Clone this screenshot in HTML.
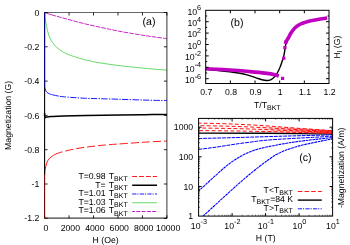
<!DOCTYPE html><html><head><meta charset="utf-8"><style>html,body{margin:0;padding:0;background:#fff;width:350px;height:245px;overflow:hidden}</style></head><body><svg width="350" height="245" viewBox="0 0 350 245" style="position:absolute;left:0;top:0;font-family:'Liberation Sans',sans-serif;font-size:8.7px;text-rendering:geometricPrecision;will-change:transform" fill="#000">
<rect width="350" height="245" fill="#fff"/>
<g fill="none" stroke-linejoin="round">
<path d="M44.60,12.50 C46.00,12.95 49.95,14.28 53.00,15.20 C56.05,16.12 59.40,17.03 62.90,18.00 C66.40,18.97 70.20,20.00 74.00,21.00 C77.80,22.00 81.87,23.07 85.70,24.00 C89.53,24.93 93.18,25.77 97.00,26.60 C100.82,27.43 104.77,28.20 108.60,29.00 C112.43,29.80 115.77,30.60 120.00,31.40 C124.23,32.20 129.72,33.08 134.00,33.80 C138.28,34.52 142.03,35.13 145.70,35.70 C149.37,36.27 152.47,36.72 156.00,37.20 C159.53,37.68 165.08,38.37 166.90,38.60" stroke="#c000c0" stroke-width="0.85" stroke-dasharray="12 1.0 4.7 1.0 4.7 1.0 4.7 1.0 4.7 1.0 4.7 1.0 4.7 1.0 4.7 1.0 4.7 1.0 4.7 1.0 4.7 1.0 4.7 1.0 4.7 1.0 4.7 1.0 4.7 1.0 4.7 1.0 4.7 1.0 4.7 1.0 4.7 1.0 4.7 1.0 4.7 1.0 4.7 1.0 4.7 1.0 4.7 1.0 4.7 1.0 4.7 1.0 4.7 1.0 4.7 1.0 4.7 1.0 4.7 1.0 4.7 1.0"/>
<path d="M44.60,12.50 C44.70,13.42 44.98,16.25 45.20,18.00 C45.42,19.75 45.62,21.35 45.90,23.00 C46.18,24.65 46.57,26.40 46.90,27.90 C47.23,29.40 47.53,30.67 47.90,32.00 C48.27,33.33 48.55,34.48 49.10,35.90 C49.65,37.32 50.43,39.17 51.20,40.50 C51.97,41.83 52.72,42.68 53.70,43.90 C54.68,45.12 55.57,46.47 57.10,47.80 C58.63,49.13 61.08,50.80 62.90,51.90 C64.72,53.00 66.10,53.62 68.00,54.40 C69.90,55.18 71.35,55.67 74.30,56.60 C77.25,57.53 81.90,59.03 85.70,60.00 C89.50,60.97 93.28,61.70 97.10,62.40 C100.92,63.10 104.78,63.65 108.60,64.20 C112.42,64.75 116.10,65.23 120.00,65.70 C123.90,66.17 127.72,66.55 132.00,67.00 C136.28,67.45 141.70,68.02 145.70,68.40 C149.70,68.78 152.47,69.00 156.00,69.30 C159.53,69.60 165.08,70.05 166.90,70.20" stroke="#00c000" stroke-width="0.6"/>
<path d="M44.60,12.50 C44.60,20.42 44.58,47.75 44.60,60.00 C44.62,72.25 44.60,81.17 44.70,86.00 C44.80,90.83 44.98,88.17 45.20,89.00 C45.42,89.83 45.72,90.45 46.00,91.00 C46.28,91.55 46.38,91.87 46.90,92.30 C47.42,92.73 48.35,93.23 49.10,93.60 C49.85,93.97 50.07,94.13 51.40,94.50 C52.73,94.87 55.18,95.43 57.10,95.80 C59.02,96.17 60.08,96.40 62.90,96.70 C65.72,97.00 70.20,97.33 74.00,97.60 C77.80,97.87 81.37,98.12 85.70,98.30 C90.03,98.48 94.28,98.53 100.00,98.70 C105.72,98.87 112.50,99.07 120.00,99.30 C127.50,99.53 137.18,99.88 145.00,100.10 C152.82,100.32 163.25,100.52 166.90,100.60" stroke="#0000ff" stroke-width="0.9" stroke-dasharray="93.0 1.2 6.4 1.3 1.4 1.3 6.4 1.3 1.4 1.3 6.4 1.3 1.4 1.3 6.4 1.3 1.4 1.3 6.4 1.3 1.4 1.3 6.4 1.3 1.4 1.3 6.4 1.3 1.4 1.3 6.4 1.3 1.4 1.3 6.4 1.3 1.4 1.3 6.4 1.3 1.4 1.3 6.4 1.3 1.4 1.3 6.4 1.3 1.4 1.3 6.4 1.3 1.4 1.3 6.4 1.3 1.4 1.3"/>
<path d="M44.60,176.00 C44.63,175.33 44.70,173.17 44.80,172.00 C44.90,170.83 45.05,169.83 45.20,169.00 C45.35,168.17 45.42,168.05 45.70,167.00 C45.98,165.95 46.33,164.07 46.90,162.70 C47.47,161.33 47.97,160.05 49.10,158.80 C50.23,157.55 52.22,156.13 53.70,155.20 C55.18,154.27 56.47,153.78 58.00,153.20 C59.53,152.62 60.18,152.40 62.90,151.70 C65.62,151.00 70.50,149.75 74.30,149.00 C78.10,148.25 81.90,147.73 85.70,147.20 C89.50,146.67 93.28,146.22 97.10,145.80 C100.92,145.38 104.30,145.05 108.60,144.70 C112.90,144.35 116.72,144.13 122.90,143.70 C129.08,143.27 138.37,142.55 145.70,142.10 C153.03,141.65 163.37,141.18 166.90,141.00" stroke="#ff0000" stroke-width="0.9" stroke-dasharray="33.4 3 8 3 8 3 8 3 8 3 8 3 8 3 8 3 8 3 8 3 8 3 8 3 8 3 8 3 8 3"/>
<path d="M44.60,113.00 C44.61,113.50 44.58,115.23 44.65,116.00 C44.72,116.77 44.83,117.42 45.00,117.60 C45.17,117.78 45.28,117.22 45.70,117.10 C46.12,116.98 46.55,116.98 47.50,116.90 C48.45,116.82 48.83,116.73 51.40,116.60 C53.97,116.47 57.18,116.27 62.90,116.10 C68.62,115.93 76.18,115.77 85.70,115.60 C95.22,115.43 110.12,115.25 120.00,115.10 C129.88,114.95 137.18,114.82 145.00,114.70 C152.82,114.58 163.25,114.45 166.90,114.40" stroke="#000" stroke-width="1.5"/>
</g>
<g stroke="#000" stroke-width="0.6" fill="none">
<path d="M44.60,12.50H166.90"/>
<path d="M166.90,12.20V218.30" stroke-width="0.8"/>
<path d="M44.30,218.1H167.20" stroke-width="0.95"/>
<path d="M44.60,12.50h3.0 M166.90,12.50h-3.0" stroke-width="0.85"/>
<path d="M44.60,46.80h3.0 M166.90,46.80h-3.0" stroke-width="0.85"/>
<path d="M44.60,81.10h3.0 M166.90,81.10h-3.0" stroke-width="0.85"/>
<path d="M44.60,115.40h3.0 M166.90,115.40h-3.0" stroke-width="0.85"/>
<path d="M44.60,149.70h3.0 M166.90,149.70h-3.0" stroke-width="0.85"/>
<path d="M44.60,184.00h3.0 M166.90,184.00h-3.0" stroke-width="0.85"/>
<path d="M44.60,218.30h3.0 M166.90,218.30h-3.0" stroke-width="0.85"/>
<path d="M44.60,218.30v-3.0 M44.60,12.50v3.0" stroke-width="0.85"/>
<path d="M69.06,218.30v-3.0 M69.06,12.50v3.0" stroke-width="0.85"/>
<path d="M93.52,218.30v-3.0 M93.52,12.50v3.0" stroke-width="0.85"/>
<path d="M117.98,218.30v-3.0 M117.98,12.50v3.0" stroke-width="0.85"/>
<path d="M142.44,218.30v-3.0 M142.44,12.50v3.0" stroke-width="0.85"/>
<path d="M166.90,218.30v-3.0 M166.90,12.50v3.0" stroke-width="0.85"/>
</g>
<path d="M44.60,12.50V86.5" stroke="#000078" stroke-width="1.1" fill="none"/>
<path d="M44.60,86.5V174" stroke="#000" stroke-width="1.1" fill="none"/>
<path d="M44.60,174V218.30" stroke="#680000" stroke-width="1.1" fill="none"/>
<text x="39.3" y="15.60" text-anchor="end">0</text>
<text x="39.3" y="49.90" text-anchor="end">-0.2</text>
<text x="39.3" y="84.20" text-anchor="end">-0.4</text>
<text x="39.3" y="118.50" text-anchor="end">-0.6</text>
<text x="39.3" y="152.80" text-anchor="end">-0.8</text>
<text x="39.3" y="187.10" text-anchor="end">-1</text>
<text x="39.3" y="221.40" text-anchor="end">-1.2</text>
<text x="45.80" y="230.9" text-anchor="middle">0</text>
<text x="70.36" y="230.9" text-anchor="middle">2000</text>
<text x="94.82" y="230.9" text-anchor="middle">4000</text>
<text x="119.28" y="230.9" text-anchor="middle">6000</text>
<text x="143.74" y="230.9" text-anchor="middle">8000</text>
<text x="168.20" y="230.9" text-anchor="middle">10000</text>
<text x="105.6" y="243.2" text-anchor="middle">H (Oe)</text>
<text transform="translate(11.3,115.4) rotate(-90)" text-anchor="middle">Magnetization (G)</text>
<text x="149" y="25" text-anchor="middle" style="font-size:10.6px">(a)</text>
<text x="127.7" y="178.90" text-anchor="end" word-spacing="0.8">T=0.98 T<tspan font-size="7" dy="2.3">BKT</tspan></text>
<path d="M132.2,176.50H157" stroke="#ff0000" stroke-width="0.9" stroke-dasharray="4.8 2.1" fill="none"/>
<text x="127.7" y="187.53" text-anchor="end" word-spacing="0.8">T= T<tspan font-size="7" dy="2.3">BKT</tspan></text>
<path d="M132.2,185.25H157" stroke="#000" stroke-width="1.5"  fill="none"/>
<text x="127.7" y="196.16" text-anchor="end" word-spacing="0.8">T=1.01 T<tspan font-size="7" dy="2.3">BKT</tspan></text>
<path d="M132.2,194.00H157" stroke="#0000ff" stroke-width="0.9" stroke-dasharray="4.2 0.9 1.2 1.3" fill="none"/>
<text x="127.7" y="204.79" text-anchor="end" word-spacing="0.8">T=1.03 T<tspan font-size="7" dy="2.3">BKT</tspan></text>
<path d="M132.2,202.75H157" stroke="#00c000" stroke-width="0.6"  fill="none"/>
<text x="127.7" y="213.42" text-anchor="end" word-spacing="0.8">T=1.06 T<tspan font-size="7" dy="2.3">BKT</tspan></text>
<path d="M132.2,211.50H157" stroke="#c000c0" stroke-width="0.9" stroke-dasharray="2.8 1.3 4 1.3 4 1.3 4 1.3 4 1.3" fill="none"/>
<path d="M205.70,69.40 C207.75,69.58 213.95,70.10 218.00,70.50 C222.05,70.90 226.33,71.35 230.00,71.80 C233.67,72.25 237.00,72.63 240.00,73.20 C243.00,73.77 245.33,74.43 248.00,75.20 C250.67,75.97 253.67,77.05 256.00,77.80 C258.33,78.55 260.23,79.25 262.00,79.70 C263.77,80.15 265.27,80.43 266.60,80.50 C267.93,80.57 268.93,80.47 270.00,80.10 C271.07,79.73 272.00,79.15 273.00,78.30 C274.00,77.45 275.00,76.43 276.00,75.00 C277.00,73.57 278.25,71.20 279.00,69.70 C279.75,68.20 280.00,67.33 280.50,66.00 C281.00,64.67 281.45,63.37 282.00,61.70 C282.55,60.03 283.30,58.12 283.80,56.00 C284.30,53.88 284.63,51.08 285.00,49.00 C285.37,46.92 285.40,45.42 286.00,43.50 C286.60,41.58 287.85,39.12 288.60,37.50 C289.35,35.88 289.73,35.08 290.50,33.80 C291.27,32.52 292.22,31.00 293.20,29.80 C294.18,28.60 295.15,27.57 296.40,26.60 C297.65,25.63 299.27,24.70 300.70,24.00 C302.13,23.30 303.33,22.93 305.00,22.40 C306.67,21.87 308.55,21.30 310.70,20.80 C312.85,20.30 315.30,19.83 317.90,19.40 C320.50,18.97 324.90,18.40 326.30,18.20" stroke="#000" stroke-width="1.4" fill="none"/>
<path d="M205.70,68.80 C209.75,69.00 222.62,69.53 230.00,70.00 C237.38,70.47 244.17,71.08 250.00,71.60 C255.83,72.12 260.83,72.58 265.00,73.10 C269.17,73.62 272.70,74.18 275.00,74.70 C277.30,75.22 278.17,75.95 278.80,76.20" stroke="#c000c0" stroke-width="3.6" fill="none"/>
<path d="M285.90,42.40 C286.08,42.00 286.55,40.82 287.00,40.00 C287.45,39.18 288.02,38.53 288.60,37.50 C289.18,36.47 289.73,35.08 290.50,33.80 C291.27,32.52 292.22,31.00 293.20,29.80 C294.18,28.60 295.15,27.57 296.40,26.60 C297.65,25.63 299.27,24.70 300.70,24.00 C302.13,23.30 303.33,22.93 305.00,22.40 C306.67,21.87 308.55,21.30 310.70,20.80 C312.85,20.30 315.47,19.82 317.90,19.40 C320.33,18.98 324.07,18.48 325.30,18.30" stroke="#c000c0" stroke-width="3.6" fill="none" stroke-linecap="square"/>
<rect x="281.00" y="76.80" width="3.2" height="3.2" fill="#c000c0"/>
<rect x="282.20" y="56.60" width="3.2" height="3.2" fill="#c000c0"/>
<rect x="283.30" y="46.00" width="3.2" height="3.2" fill="#c000c0"/>
<rect x="284.30" y="40.20" width="3.2" height="3.2" fill="#c000c0"/>
<g stroke="#000" stroke-width="1" fill="none">
<rect x="205.70" y="10.30" width="123.30" height="73.20"/>
<path d="M205.70,16.00h1.5 M329.00,16.00h-1.5"/>
<path d="M205.70,21.70h3.0 M329.00,21.70h-3.0"/>
<path d="M205.70,27.40h1.5 M329.00,27.40h-1.5"/>
<path d="M205.70,33.10h3.0 M329.00,33.10h-3.0"/>
<path d="M205.70,38.80h1.5 M329.00,38.80h-1.5"/>
<path d="M205.70,44.50h3.0 M329.00,44.50h-3.0"/>
<path d="M205.70,50.20h1.5 M329.00,50.20h-1.5"/>
<path d="M205.70,55.90h3.0 M329.00,55.90h-3.0"/>
<path d="M205.70,61.60h1.5 M329.00,61.60h-1.5"/>
<path d="M205.70,67.30h3.0 M329.00,67.30h-3.0"/>
<path d="M205.70,73.00h1.5 M329.00,73.00h-1.5"/>
<path d="M205.70,78.70h3.0 M329.00,78.70h-3.0"/>
<path d="M230.36,83.50v-3 M230.36,10.30v3"/>
<path d="M255.02,83.50v-3 M255.02,10.30v3"/>
<path d="M279.68,83.50v-3 M279.68,10.30v3"/>
<path d="M304.34,83.50v-3 M304.34,10.30v3"/>
</g>
<text x="201.1" y="14.50" text-anchor="end">10<tspan font-size="7.2" dy="-4.2">6</tspan></text>
<text x="201.1" y="25.90" text-anchor="end">10<tspan font-size="7.2" dy="-4.2">4</tspan></text>
<text x="201.1" y="37.30" text-anchor="end">10<tspan font-size="7.2" dy="-4.2">2</tspan></text>
<text x="201.1" y="48.70" text-anchor="end">10<tspan font-size="7.2" dy="-4.2">0</tspan></text>
<text x="201.1" y="60.10" text-anchor="end">10<tspan font-size="7.2" dy="-4.2">-2</tspan></text>
<text x="201.1" y="71.50" text-anchor="end">10<tspan font-size="7.2" dy="-4.2">-4</tspan></text>
<text x="201.1" y="82.90" text-anchor="end">10<tspan font-size="7.2" dy="-4.2">-6</tspan></text>
<text x="206.30" y="95.3" text-anchor="middle">0.7</text>
<text x="230.96" y="95.3" text-anchor="middle">0.8</text>
<text x="255.62" y="95.3" text-anchor="middle">0.9</text>
<text x="280.28" y="95.3" text-anchor="middle">1</text>
<text x="304.94" y="95.3" text-anchor="middle">1.1</text>
<text x="329.60" y="95.3" text-anchor="middle">1.2</text>
<text x="254.0" y="107.6">T/T<tspan font-size="7" dy="2.2">BKT</tspan></text>
<text transform="translate(339.7,47) rotate(-90)" text-anchor="middle">H<tspan font-size="7" dy="2">l</tspan><tspan dy="-2"> (G)</tspan></text>
<text x="237" y="26.3" text-anchor="middle" font-size="10.6">(b)</text>
<clipPath id="cc"><rect x="198.60" y="118.40" width="134.00" height="97.70"/></clipPath>
<g fill="none" clip-path="url(#cc)">
<path d="M198.6,133.1 L265,133.2 L300,133.6 L332.6,134.1" stroke="#000" stroke-width="1.35"/>
<path d="M198.60,123.10 C204.17,123.25 220.93,123.57 232.00,124.01 C243.07,124.46 254.00,125.05 265.00,125.76 C276.00,126.47 286.73,127.44 298.00,128.27 C309.27,129.09 326.83,130.29 332.60,130.70" stroke="#ff0000" stroke-width="0.95" stroke-dasharray="3.9 2.3" stroke-dashoffset="1.0"/>
<path d="M198.60,125.60 C204.17,125.72 220.93,125.97 232.00,126.32 C243.07,126.67 254.00,127.14 265.00,127.70 C276.00,128.26 286.73,129.03 298.00,129.68 C309.27,130.33 326.83,131.28 332.60,131.60" stroke="#ff0000" stroke-width="0.95" stroke-dasharray="3.9 2.3" stroke-dashoffset="4.2"/>
<path d="M198.60,128.00 C204.17,128.09 220.93,128.27 232.00,128.53 C243.07,128.78 254.00,129.13 265.00,129.54 C276.00,129.95 286.73,130.52 298.00,130.99 C309.27,131.47 326.83,132.17 332.60,132.40" stroke="#ff0000" stroke-width="0.95" stroke-dasharray="3.9 2.3" stroke-dashoffset="2.4"/>
<path d="M198.60,130.60 C204.17,130.65 220.93,130.76 232.00,130.91 C243.07,131.06 254.00,131.27 265.00,131.51 C276.00,131.75 286.73,132.09 298.00,132.37 C309.27,132.65 326.83,133.06 332.60,133.20" stroke="#ff0000" stroke-width="0.95" stroke-dasharray="3.9 2.3" stroke-dashoffset="5.5"/>
<linearGradient id="rg" x1="0" x2="1" y1="0" y2="0"><stop offset="0" stop-color="#ff0000" stop-opacity="0"/><stop offset="1" stop-color="#ff0000" stop-opacity="0.75"/></linearGradient>
<path d="M255,125.4 L332.6,130.2 V133.7 L255,132.0Z" fill="url(#rg)" stroke="none"/>
<path d="M198.60,138.50 C204.67,138.35 222.27,137.95 235.00,137.60 C247.73,137.25 264.17,136.72 275.00,136.40 C285.83,136.08 290.40,135.95 300.00,135.70 C309.60,135.45 327.17,135.03 332.60,134.90" stroke="#0000ff" stroke-width="1.0" stroke-dasharray="3.8 0.9"/>
<path d="M198.60,149.40 C201.33,149.05 208.93,148.17 215.00,147.30 C221.07,146.43 228.33,145.17 235.00,144.20 C241.67,143.23 250.00,142.15 255.00,141.50 C260.00,140.85 260.83,140.68 265.00,140.30 C269.17,139.92 275.00,139.53 280.00,139.20 C285.00,138.87 290.00,138.58 295.00,138.30 C300.00,138.02 303.73,137.83 310.00,137.50 C316.27,137.17 328.83,136.50 332.60,136.30" stroke="#0000ff" stroke-width="1.0" stroke-dasharray="3.8 0.9"/>
<path d="M193.00,196.00 C193.93,195.17 196.55,192.85 198.60,191.00 C200.65,189.15 202.08,187.83 205.30,184.90 C208.52,181.97 213.90,176.92 217.90,173.40 C221.90,169.88 225.50,166.65 229.30,163.80 C233.10,160.95 236.90,158.43 240.70,156.30 C244.50,154.17 248.28,152.43 252.10,151.00 C255.92,149.57 259.78,148.63 263.60,147.70 C267.42,146.77 272.27,145.95 275.00,145.40 C277.73,144.85 276.67,144.98 280.00,144.40 C283.33,143.82 290.00,142.63 295.00,141.90 C300.00,141.17 305.83,140.50 310.00,140.00 C314.17,139.50 316.23,139.30 320.00,138.90 C323.77,138.50 330.50,137.82 332.60,137.60" stroke="#0000ff" stroke-width="1.1" stroke-dasharray="2.8 0.6"/>
<path d="M198.00,221.00 C198.85,220.18 199.43,219.50 203.10,216.10 C206.77,212.70 214.30,205.80 220.00,200.60 C225.70,195.40 231.95,189.62 237.30,184.90 C242.65,180.18 247.72,175.90 252.10,172.30 C256.48,168.70 260.62,165.57 263.60,163.30 C266.58,161.03 267.87,160.17 270.00,158.70 C272.13,157.23 273.42,156.05 276.40,154.50 C279.38,152.95 284.08,150.83 287.90,149.40 C291.72,147.97 295.62,146.90 299.30,145.90 C302.98,144.90 306.22,144.23 310.00,143.40 C313.78,142.57 318.23,141.65 322.00,140.90 C325.77,140.15 330.83,139.23 332.60,138.90" stroke="#0000ff" stroke-width="1.1" stroke-dasharray="2.8 0.6"/>
</g>
<g stroke="#000" stroke-width="1" fill="none">
<rect x="198.60" y="118.40" width="134.00" height="97.70"/>
<path d="M198.60,207.17h1.5 M332.60,207.17h-1.5" stroke-width="0.6"/>
<path d="M198.60,201.95h1.5 M332.60,201.95h-1.5" stroke-width="0.6"/>
<path d="M198.60,198.25h1.5 M332.60,198.25h-1.5" stroke-width="0.6"/>
<path d="M198.60,195.38h1.5 M332.60,195.38h-1.5" stroke-width="0.6"/>
<path d="M198.60,193.03h1.5 M332.60,193.03h-1.5" stroke-width="0.6"/>
<path d="M198.60,191.05h1.5 M332.60,191.05h-1.5" stroke-width="0.6"/>
<path d="M198.60,189.33h1.5 M332.60,189.33h-1.5" stroke-width="0.6"/>
<path d="M198.60,187.82h1.5 M332.60,187.82h-1.5" stroke-width="0.6"/>
<path d="M198.60,186.46h3 M332.60,186.46h-3"/>
<path d="M198.60,177.54h1.5 M332.60,177.54h-1.5" stroke-width="0.6"/>
<path d="M198.60,172.32h1.5 M332.60,172.32h-1.5" stroke-width="0.6"/>
<path d="M198.60,168.62h1.5 M332.60,168.62h-1.5" stroke-width="0.6"/>
<path d="M198.60,165.75h1.5 M332.60,165.75h-1.5" stroke-width="0.6"/>
<path d="M198.60,163.40h1.5 M332.60,163.40h-1.5" stroke-width="0.6"/>
<path d="M198.60,161.42h1.5 M332.60,161.42h-1.5" stroke-width="0.6"/>
<path d="M198.60,159.70h1.5 M332.60,159.70h-1.5" stroke-width="0.6"/>
<path d="M198.60,158.19h1.5 M332.60,158.19h-1.5" stroke-width="0.6"/>
<path d="M198.60,156.83h3 M332.60,156.83h-3"/>
<path d="M198.60,147.91h1.5 M332.60,147.91h-1.5" stroke-width="0.6"/>
<path d="M198.60,142.69h1.5 M332.60,142.69h-1.5" stroke-width="0.6"/>
<path d="M198.60,138.99h1.5 M332.60,138.99h-1.5" stroke-width="0.6"/>
<path d="M198.60,136.12h1.5 M332.60,136.12h-1.5" stroke-width="0.6"/>
<path d="M198.60,133.77h1.5 M332.60,133.77h-1.5" stroke-width="0.6"/>
<path d="M198.60,131.79h1.5 M332.60,131.79h-1.5" stroke-width="0.6"/>
<path d="M198.60,130.07h1.5 M332.60,130.07h-1.5" stroke-width="0.6"/>
<path d="M198.60,128.56h1.5 M332.60,128.56h-1.5" stroke-width="0.6"/>
<path d="M198.60,127.20h3 M332.60,127.20h-3"/>
<path d="M208.68,216.10v-1.4 M208.68,118.40v1.4" stroke-width="0.5"/>
<path d="M214.58,216.10v-1.4 M214.58,118.40v1.4" stroke-width="0.5"/>
<path d="M218.77,216.10v-1.4 M218.77,118.40v1.4" stroke-width="0.5"/>
<path d="M222.02,216.10v-1.4 M222.02,118.40v1.4" stroke-width="0.5"/>
<path d="M224.67,216.10v-1.4 M224.67,118.40v1.4" stroke-width="0.5"/>
<path d="M226.91,216.10v-1.4 M226.91,118.40v1.4" stroke-width="0.5"/>
<path d="M228.85,216.10v-1.4 M228.85,118.40v1.4" stroke-width="0.5"/>
<path d="M230.57,216.10v-1.4 M230.57,118.40v1.4" stroke-width="0.5"/>
<path d="M232.10,216.10v-3 M232.10,118.40v3"/>
<path d="M242.18,216.10v-1.4 M242.18,118.40v1.4" stroke-width="0.5"/>
<path d="M248.08,216.10v-1.4 M248.08,118.40v1.4" stroke-width="0.5"/>
<path d="M252.27,216.10v-1.4 M252.27,118.40v1.4" stroke-width="0.5"/>
<path d="M255.52,216.10v-1.4 M255.52,118.40v1.4" stroke-width="0.5"/>
<path d="M258.17,216.10v-1.4 M258.17,118.40v1.4" stroke-width="0.5"/>
<path d="M260.41,216.10v-1.4 M260.41,118.40v1.4" stroke-width="0.5"/>
<path d="M262.35,216.10v-1.4 M262.35,118.40v1.4" stroke-width="0.5"/>
<path d="M264.07,216.10v-1.4 M264.07,118.40v1.4" stroke-width="0.5"/>
<path d="M265.60,216.10v-3 M265.60,118.40v3"/>
<path d="M275.68,216.10v-1.4 M275.68,118.40v1.4" stroke-width="0.5"/>
<path d="M281.58,216.10v-1.4 M281.58,118.40v1.4" stroke-width="0.5"/>
<path d="M285.77,216.10v-1.4 M285.77,118.40v1.4" stroke-width="0.5"/>
<path d="M289.02,216.10v-1.4 M289.02,118.40v1.4" stroke-width="0.5"/>
<path d="M291.67,216.10v-1.4 M291.67,118.40v1.4" stroke-width="0.5"/>
<path d="M293.91,216.10v-1.4 M293.91,118.40v1.4" stroke-width="0.5"/>
<path d="M295.85,216.10v-1.4 M295.85,118.40v1.4" stroke-width="0.5"/>
<path d="M297.57,216.10v-1.4 M297.57,118.40v1.4" stroke-width="0.5"/>
<path d="M299.10,216.10v-3 M299.10,118.40v3"/>
<path d="M309.18,216.10v-1.4 M309.18,118.40v1.4" stroke-width="0.5"/>
<path d="M315.08,216.10v-1.4 M315.08,118.40v1.4" stroke-width="0.5"/>
<path d="M319.27,216.10v-1.4 M319.27,118.40v1.4" stroke-width="0.5"/>
<path d="M322.52,216.10v-1.4 M322.52,118.40v1.4" stroke-width="0.5"/>
<path d="M325.17,216.10v-1.4 M325.17,118.40v1.4" stroke-width="0.5"/>
<path d="M327.41,216.10v-1.4 M327.41,118.40v1.4" stroke-width="0.5"/>
<path d="M329.35,216.10v-1.4 M329.35,118.40v1.4" stroke-width="0.5"/>
<path d="M331.07,216.10v-1.4 M331.07,118.40v1.4" stroke-width="0.5"/>
</g>
<text x="193.2" y="130.30" text-anchor="end">1000</text>
<text x="193.2" y="159.93" text-anchor="end">100</text>
<text x="193.2" y="189.56" text-anchor="end">10</text>
<text x="193.2" y="218.59" text-anchor="end">1</text>
<text x="198.90" y="228.7" text-anchor="middle">10<tspan font-size="7.2" dy="-4.5">-3</tspan></text>
<text x="232.40" y="228.7" text-anchor="middle">10<tspan font-size="7.2" dy="-4.5">-2</tspan></text>
<text x="265.90" y="228.7" text-anchor="middle">10<tspan font-size="7.2" dy="-4.5">-1</tspan></text>
<text x="299.40" y="228.7" text-anchor="middle">10<tspan font-size="7.2" dy="-4.5">0</tspan></text>
<text x="332.90" y="228.7" text-anchor="middle">10<tspan font-size="7.2" dy="-4.5">1</tspan></text>
<text x="265.7" y="241.4" text-anchor="middle">H (T)</text>
<text transform="translate(344.0,167.8) rotate(-90)" text-anchor="middle">-Magnetization (A/m)</text>
<text x="305.4" y="160.9" text-anchor="middle" font-size="10.6">(c)</text>
<text x="292.9" y="193.0" text-anchor="end">T&lt;T<tspan font-size="7" dy="2.4">BKT</tspan></text>
<text x="293.1" y="202.0" text-anchor="end">T<tspan font-size="7" dy="2.4">BKT</tspan><tspan dy="-2.4">=84 K</tspan></text>
<text x="292.9" y="210.6" text-anchor="end">T&gt;T<tspan font-size="7" dy="2.4">BKT</tspan></text>
<path d="M297.8,191.5H321.8" stroke="#ff0000" stroke-width="0.9" stroke-dasharray="4.6 2.1" fill="none"/>
<path d="M297.8,200.1H321.8" stroke="#000" stroke-width="1.4" fill="none"/>
<path d="M297.8,208.8H321.8" stroke="#0000ff" stroke-width="0.9" stroke-dasharray="4.2 0.9 1.2 1.3" fill="none"/>
</svg></body></html>
